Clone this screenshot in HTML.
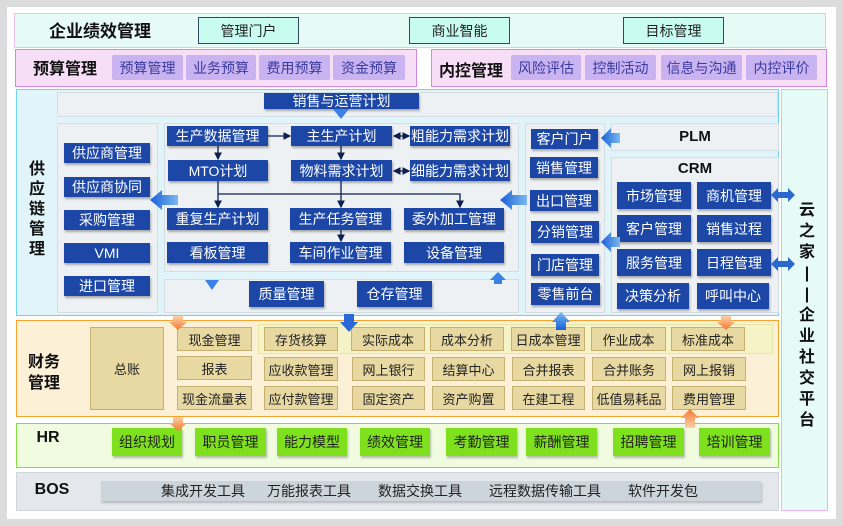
<!DOCTYPE html>
<html><head><meta charset="utf-8">
<style>
*{margin:0;padding:0;box-sizing:border-box}
body{width:843px;height:526px;background:#dcdcdc;position:relative;overflow:hidden;font-family:"Liberation Sans","Noto Sans CJK SC",sans-serif}
.a{position:absolute}
.c{position:absolute;display:flex;align-items:center;justify-content:center;white-space:nowrap}
.b{background:#1c47a6;color:#fff;font-size:14px;box-shadow:1px 2px 2px rgba(0,0,0,.3)}
.p{background:#c9b3f0;color:#3a3aa0;font-size:14px;border-radius:2px}
.t{background:#c8fcf0;border:1px solid #304860;color:#222;font-size:14px}
.f{background:#e8d9a2;border:1px solid #c6b070;color:#222;font-size:13px}
.g{background:#7fe01e;color:#222;font-size:14px;box-shadow:1px 2px 2px rgba(0,0,0,.25)}
.lb{font-weight:bold;color:#111}
.pn{position:absolute;background:#eef1f3;border:1px solid #d3dde3}
</style></head><body>
<div class="a" style="left:7px;top:7px;width:829px;height:512px;background:#fff"></div>
<div class="a" style="left:14px;top:13px;width:812px;height:35px;background:#e6fbf6;border:1px solid #f0c0f0"></div>
<div class="c lb" style="left:45px;top:17px;width:110px;height:25px;font-size:17px">企业绩效管理</div>
<div class="c t" style="left:198px;top:17px;width:101px;height:27px">管理门户</div>
<div class="c t" style="left:409px;top:17px;width:101px;height:27px">商业智能</div>
<div class="c t" style="left:623px;top:17px;width:101px;height:27px">目标管理</div>
<div class="a" style="left:15px;top:49px;width:402px;height:38px;background:#f6def6;border:1px solid #d486e6"></div>
<div class="c lb" style="left:28px;top:55px;width:74px;height:24px;font-size:16px">预算管理</div>
<div class="c p" style="left:112px;top:55px;width:71px;height:25px">预算管理</div>
<div class="c p" style="left:186px;top:55px;width:70px;height:25px">业务预算</div>
<div class="c p" style="left:259px;top:55px;width:71px;height:25px">费用预算</div>
<div class="c p" style="left:333px;top:55px;width:72px;height:25px">资金预算</div>
<div class="a" style="left:431px;top:49px;width:396px;height:38px;background:#f6def6;border:1px solid #d486e6"></div>
<div class="c lb" style="left:436px;top:57px;width:70px;height:24px;font-size:16px">内控管理</div>
<div class="c p" style="left:511px;top:55px;width:70px;height:25px">风险评估</div>
<div class="c p" style="left:585px;top:55px;width:71px;height:25px">控制活动</div>
<div class="c p" style="left:661px;top:55px;width:81px;height:25px">信息与沟通</div>
<div class="c p" style="left:746px;top:55px;width:71px;height:25px">内控评价</div>
<div class="a" style="left:16px;top:89px;width:763px;height:227px;background:#e0f4fa;border:1px solid #6fd2f2"></div>
<div class="a" style="left:781px;top:89px;width:47px;height:422px;background:#e6fbf6;border:1px solid #f0b0e8"></div>
<div class="a lb" style="left:797px;top:200px;width:20px;font-size:16px;line-height:21px;text-align:center">云<br>之<br>家<br>|<br>|<br>企<br>业<br>社<br>交<br>平<br>台</div>
<div class="a lb" style="left:27px;top:160px;width:20px;font-size:16px;line-height:20px;text-align:center">供<br>应<br>链<br>管<br>理</div>
<div class="pn" style="left:57px;top:92px;width:721px;height:25px"></div>
<div class="c b" style="left:264px;top:93px;width:155px;height:16px">销售与运营计划</div>
<div class="pn" style="left:57px;top:123px;width:101px;height:190px"></div>
<div class="pn" style="left:164px;top:123px;width:355px;height:149px"></div>
<div class="pn" style="left:164px;top:279px;width:355px;height:34px"></div>
<div class="pn" style="left:525px;top:123px;width:80px;height:190px"></div>
<div class="pn" style="left:611px;top:123px;width:168px;height:28px"></div>
<div class="pn" style="left:611px;top:157px;width:168px;height:156px"></div>
<div class="c lb" style="left:611px;top:125px;width:168px;height:22px;font-size:15px">PLM</div>
<div class="c lb" style="left:611px;top:158px;width:168px;height:20px;font-size:15px">CRM</div>
<div class="c b" style="left:64px;top:143px;width:86px;height:20px">供应商管理</div>
<div class="c b" style="left:64px;top:177px;width:86px;height:20px">供应商协同</div>
<div class="c b" style="left:64px;top:210px;width:86px;height:20px">采购管理</div>
<div class="c b" style="left:64px;top:243px;width:86px;height:20px">VMI</div>
<div class="c b" style="left:64px;top:276px;width:86px;height:20px">进口管理</div>
<div class="c b" style="left:167px;top:126px;width:101px;height:20px">生产数据管理</div>
<div class="c b" style="left:291px;top:126px;width:101px;height:20px">主生产计划</div>
<div class="c b" style="left:410px;top:126px;width:100px;height:20px">粗能力需求计划</div>
<div class="c b" style="left:168px;top:160px;width:100px;height:21px">MTO计划</div>
<div class="c b" style="left:291px;top:160px;width:101px;height:21px">物料需求计划</div>
<div class="c b" style="left:410px;top:160px;width:100px;height:21px">细能力需求计划</div>
<div class="c b" style="left:167px;top:208px;width:101px;height:22px">重复生产计划</div>
<div class="c b" style="left:290px;top:208px;width:101px;height:22px">生产任务管理</div>
<div class="c b" style="left:404px;top:208px;width:100px;height:22px">委外加工管理</div>
<div class="c b" style="left:167px;top:242px;width:101px;height:21px">看板管理</div>
<div class="c b" style="left:290px;top:242px;width:101px;height:21px">车间作业管理</div>
<div class="c b" style="left:404px;top:242px;width:100px;height:21px">设备管理</div>
<div class="c b" style="left:249px;top:281px;width:75px;height:26px">质量管理</div>
<div class="c b" style="left:357px;top:281px;width:75px;height:26px">仓存管理</div>
<div class="c b" style="left:531px;top:129px;width:67px;height:20px">客户门户</div>
<div class="c b" style="left:530px;top:157px;width:68px;height:21px">销售管理</div>
<div class="c b" style="left:530px;top:190px;width:68px;height:21px">出口管理</div>
<div class="c b" style="left:531px;top:221px;width:68px;height:22px">分销管理</div>
<div class="c b" style="left:531px;top:254px;width:68px;height:22px">门店管理</div>
<div class="c b" style="left:531px;top:283px;width:69px;height:22px">零售前台</div>
<div class="c b" style="left:617px;top:182px;width:74px;height:27px">市场管理</div>
<div class="c b" style="left:697px;top:182px;width:74px;height:27px">商机管理</div>
<div class="c b" style="left:617px;top:215px;width:74px;height:27px">客户管理</div>
<div class="c b" style="left:697px;top:215px;width:74px;height:27px">销售过程</div>
<div class="c b" style="left:617px;top:249px;width:74px;height:27px">服务管理</div>
<div class="c b" style="left:697px;top:249px;width:74px;height:27px">日程管理</div>
<div class="c b" style="left:617px;top:283px;width:72px;height:26px">决策分析</div>
<div class="c b" style="left:697px;top:283px;width:72px;height:26px">呼叫中心</div>
<div class="a" style="left:16px;top:320px;width:763px;height:97px;background:#fcf0d6;border:1px solid #f8a22e"></div>
<div class="a lb" style="left:28px;top:352px;width:40px;font-size:16px;line-height:21px">财务<br>管理</div>
<div class="c f" style="left:90px;top:327px;width:74px;height:83px;font-size:13px">总账</div>
<div class="a" style="left:258px;top:324px;width:515px;height:30px;background:#f6f4c6;border:1px solid #e6e6a8"></div>
<div class="c f" style="left:177px;top:327px;width:75px;height:24px">现金管理</div>
<div class="c f" style="left:177px;top:356px;width:75px;height:24px">报表</div>
<div class="c f" style="left:177px;top:386px;width:75px;height:24px">现金流量表</div>
<div class="c f" style="left:264px;top:327px;width:74px;height:24px">存货核算</div>
<div class="c f" style="left:351px;top:327px;width:74px;height:24px">实际成本</div>
<div class="c f" style="left:430px;top:327px;width:74px;height:24px">成本分析</div>
<div class="c f" style="left:511px;top:327px;width:74px;height:24px">日成本管理</div>
<div class="c f" style="left:591px;top:327px;width:75px;height:24px">作业成本</div>
<div class="c f" style="left:671px;top:327px;width:74px;height:24px">标准成本</div>
<div class="c f" style="left:264px;top:357px;width:74px;height:24px">应收款管理</div>
<div class="c f" style="left:352px;top:357px;width:73px;height:24px">网上银行</div>
<div class="c f" style="left:432px;top:357px;width:73px;height:24px">结算中心</div>
<div class="c f" style="left:512px;top:357px;width:73px;height:24px">合并报表</div>
<div class="c f" style="left:592px;top:357px;width:74px;height:24px">合并账务</div>
<div class="c f" style="left:672px;top:357px;width:74px;height:24px">网上报销</div>
<div class="c f" style="left:264px;top:386px;width:74px;height:24px">应付款管理</div>
<div class="c f" style="left:352px;top:386px;width:73px;height:24px">固定资产</div>
<div class="c f" style="left:432px;top:386px;width:73px;height:24px">资产购置</div>
<div class="c f" style="left:512px;top:386px;width:73px;height:24px">在建工程</div>
<div class="c f" style="left:592px;top:386px;width:74px;height:24px">低值易耗品</div>
<div class="c f" style="left:672px;top:386px;width:74px;height:24px">费用管理</div>
<div class="a" style="left:16px;top:423px;width:763px;height:45px;background:#f0fbe0;border:1px solid #80e040"></div>
<div class="c lb" style="left:30px;top:428px;width:36px;height:20px;font-size:16px">HR</div>
<div class="c g" style="left:112px;top:428px;width:70px;height:28px">组织规划</div>
<div class="c g" style="left:195px;top:428px;width:71px;height:28px">职员管理</div>
<div class="c g" style="left:277px;top:428px;width:70px;height:28px">能力模型</div>
<div class="c g" style="left:360px;top:428px;width:70px;height:28px">绩效管理</div>
<div class="c g" style="left:446px;top:428px;width:71px;height:28px">考勤管理</div>
<div class="c g" style="left:526px;top:428px;width:71px;height:28px">薪酬管理</div>
<div class="c g" style="left:613px;top:428px;width:71px;height:28px">招聘管理</div>
<div class="c g" style="left:699px;top:428px;width:71px;height:28px">培训管理</div>
<div class="a" style="left:16px;top:472px;width:763px;height:39px;background:#e4e8ec;border:1px solid #d0d6dc"></div>
<div class="c lb" style="left:30px;top:480px;width:44px;height:20px;font-size:16px">BOS</div>
<div class="a" style="left:101px;top:481px;width:660px;height:20px;background:#ccd4dc;box-shadow:1px 2px 2px rgba(0,0,0,.2)"></div>
<div class="a" style="left:101px;top:481px;width:660px;height:20px;font-size:14px;color:#222;line-height:20px;white-space:nowrap">
<span class="a" style="left:60px">集成开发工具</span><span class="a" style="left:166px">万能报表工具</span><span class="a" style="left:277px">数据交换工具</span><span class="a" style="left:388px">远程数据传输工具</span><span class="a" style="left:527px">软件开发包</span></div>
<svg class="a" style="left:0;top:0" width="843" height="526">
<defs>
<marker id="m" markerWidth="6" markerHeight="6" refX="5" refY="3" orient="auto"><path d="M0,0L6,3L0,6z" fill="#0c2050"/></marker>
<marker id="ms" markerWidth="6" markerHeight="6" refX="1" refY="3" orient="auto"><path d="M6,0L0,3L6,6z" fill="#0c2050"/></marker>
<linearGradient id="bl" x1="0" x2="1"><stop offset="0" stop-color="#1a5fd8"/><stop offset="1" stop-color="#7ab8f0"/></linearGradient>
<linearGradient id="bv" x1="0" y1="1" x2="0" y2="0"><stop offset="0" stop-color="#1a5fd8"/><stop offset="1" stop-color="#7ab8f0"/></linearGradient>
<linearGradient id="or" x1="0" y1="0" x2="0" y2="1"><stop offset="0" stop-color="#fcd0a8"/><stop offset="1" stop-color="#f47830"/></linearGradient>
<linearGradient id="oru" x1="0" y1="1" x2="0" y2="0"><stop offset="0" stop-color="#fcd0a8"/><stop offset="1" stop-color="#f47830"/></linearGradient>
</defs>
<g stroke="#0c2050" stroke-width="1.3" fill="none">
<line x1="268" y1="136" x2="290" y2="136" marker-end="url(#m)"/>
<line x1="218" y1="146" x2="218" y2="159" marker-end="url(#m)"/>
<line x1="341" y1="146" x2="341" y2="159" marker-end="url(#m)"/>
<line x1="394" y1="136" x2="409" y2="136" marker-end="url(#m)" marker-start="url(#ms)"/>
<line x1="394" y1="171" x2="409" y2="171" marker-end="url(#m)" marker-start="url(#ms)"/>
<line x1="218" y1="181" x2="218" y2="207" marker-end="url(#m)"/>
<line x1="341" y1="181" x2="341" y2="207" marker-end="url(#m)"/>
<polyline points="218,194 460,194 460,207" marker-end="url(#m)"/>
<line x1="341" y1="230" x2="341" y2="241" marker-end="url(#m)"/>
</g>
<path d="M150,200 L162,190 L162,195 L178,195 L178,205 L162,205 L162,210z" fill="url(#bl)"/>
<path d="M500,200 L512,190 L512,195 L527,195 L527,205 L512,205 L512,210z" fill="url(#bl)"/>
<path d="M601,138 L611,128 L611,133 L620,133 L620,143 L611,143 L611,148z" fill="url(#bl)"/>
<path d="M601,242 L611,232 L611,237 L620,237 L620,247 L611,247 L611,252z" fill="url(#bl)"/>
<path d="M333,109 L349,109 L341,119z" fill="#3a82e6"/>
<path d="M205,280 L219,280 L212,290z" fill="#3a82e6"/>
<path d="M490,280 L498,272 L506,280 L502,280 L502,284 L494,284 L494,280z" fill="#3a82e6"/>
<path d="M771,195 L778,188 L778,192 L788,192 L788,188 L795,195 L788,202 L788,198 L778,198 L778,202z" fill="#2a68d0"/>
<path d="M771,264 L778,257 L778,261 L788,261 L788,257 L795,264 L788,271 L788,267 L778,267 L778,271z" fill="#2a68d0"/>
<path d="M173,316 L183,316 L183,322 L187,322 L178,330 L169,322 L173,322z" fill="url(#or)"/>
<path d="M173,417 L183,417 L183,423 L187,423 L178,431 L169,423 L173,423z" fill="url(#or)"/>
<path d="M344,314 L354,314 L354,322 L358,322 L349,332 L340,322 L344,322z" fill="#2a6ad8"/>
<path d="M556,330 L566,330 L566,322 L570,322 L561,312 L552,322 L556,322z" fill="url(#bv)"/>
<path d="M721,316 L731,316 L731,322 L735,322 L726,330 L717,322 L721,322z" fill="url(#or)"/>
<path d="M685,428 L695,428 L695,418 L699,418 L690,409 L681,418 L685,418z" fill="url(#oru)"/>
</svg>
</body></html>
